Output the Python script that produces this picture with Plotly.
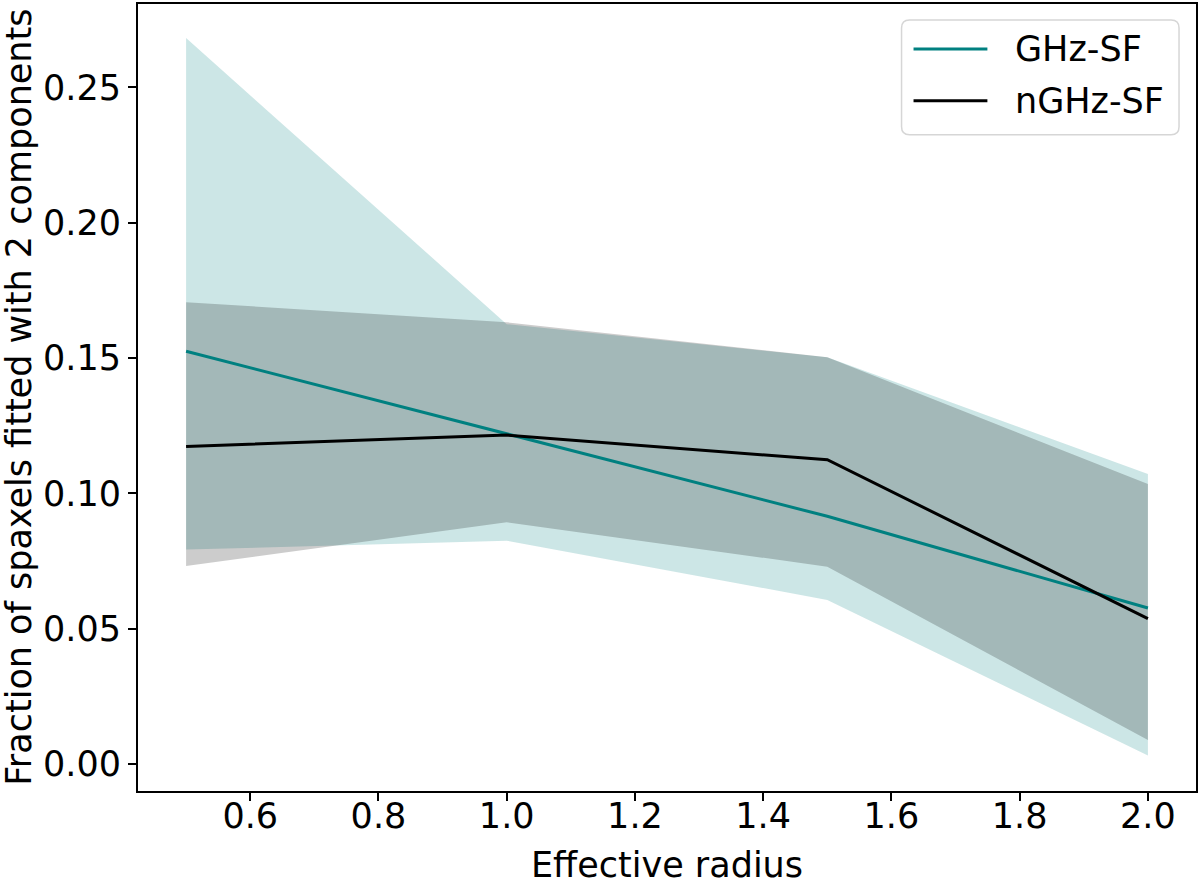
import plotly.graph_objects as go

# Data
radius = [0.5, 1.0, 1.5, 2.0]
ghz_mean = [0.1525, 0.1220, 0.0915, 0.0576]
ghz_upper = [0.2682, 0.1625, 0.1503, 0.1071]
ghz_lower = [0.0792, 0.0825, 0.0606, 0.0031]
nghz_mean = [0.1173, 0.1215, 0.1124, 0.0537]
nghz_upper = [0.1706, 0.1632, 0.1503, 0.1034]
nghz_lower = [0.0731, 0.0893, 0.0729, 0.0088]

series_names = ["GHz-SF", "nGHz-SF"]
x_ticks = [0.6, 0.8, 1.0, 1.2, 1.4, 1.6, 1.8, 2.0]
y_ticks = [0.00, 0.05, 0.10, 0.15, 0.20, 0.25]

TEAL = "#008080"
FONT = "DejaVu Sans"
FS = 35

fig = go.Figure()

# bands
fig.add_trace(go.Scatter(
    x=radius + radius[::-1], y=ghz_upper + ghz_lower[::-1],
    fill="toself", fillcolor="rgba(0,128,128,0.2)", line=dict(width=0),
    mode="lines", showlegend=False, hoverinfo="skip"))
fig.add_trace(go.Scatter(
    x=radius + radius[::-1], y=nghz_upper + nghz_lower[::-1],
    fill="toself", fillcolor="rgba(0,0,0,0.2)", line=dict(width=0),
    mode="lines", showlegend=False, hoverinfo="skip"))

# lines
fig.add_trace(go.Scatter(x=radius, y=ghz_mean, mode="lines", name=series_names[0],
                         line=dict(color=TEAL, width=3), showlegend=False))
fig.add_trace(go.Scatter(x=radius, y=nghz_mean, mode="lines", name=series_names[1],
                         line=dict(color="black", width=3), showlegend=False))

W, H = 1200, 878
ML, MR, MT, MB = 138, 2, 2, 87
pw, ph = W - ML - MR, H - MT - MB


def px(xp):
    return (xp - ML) / pw


def py(yp):
    return (MT + ph - yp) / ph


axis_common = dict(
    showline=True, linecolor="black", linewidth=2, mirror=True,
    ticks="outside", ticklen=8, tickwidth=2, tickcolor="black",
    showgrid=False, zeroline=False,
    tickfont=dict(family=FONT, size=FS, color="black"),
)

fig.update_xaxes(range=[0.425, 2.075], tickvals=x_ticks,
                 ticktext=[f"{v:.1f}" for v in x_ticks],
                 ticklabelstandoff=-15, **axis_common)
fig.update_yaxes(range=[-0.0100, 0.2808], tickvals=y_ticks,
                 ticktext=[f"{v:.2f}" for v in y_ticks], **axis_common)

fig.add_annotation(text="Effective radius", xref="paper", yref="paper",
                   x=0.5, y=py(865), xanchor="center", yanchor="middle",
                   showarrow=False, font=dict(family=FONT, size=FS, color="black"))
fig.add_annotation(text="Fraction of spaxels fitted with 2 components",
                   xref="paper", yref="paper", textangle=-90,
                   x=px(18), y=0.5, xanchor="center", yanchor="middle",
                   showarrow=False, font=dict(family=FONT, size=FS, color="black"))

# legend drawn in matplotlib style (rounded frame, long line samples)
lx0, lx1, ly0, ly1, r = 903, 1181, 18, 133, 8
rx, ry = r / pw, r / ph
X0, X1, Y0, Y1 = px(lx0), px(lx1), py(ly1), py(ly0)
path = (f"M {X0+rx},{Y0} L {X1-rx},{Y0} Q {X1},{Y0} {X1},{Y0+ry} "
        f"L {X1},{Y1-ry} Q {X1},{Y1} {X1-rx},{Y1} L {X0+rx},{Y1} "
        f"Q {X0},{Y1} {X0},{Y1-ry} L {X0},{Y0+ry} Q {X0},{Y0} {X0+rx},{Y0} Z")
fig.add_shape(type="path", path=path, xref="paper", yref="paper",
              fillcolor="rgba(255,255,255,0.8)", line=dict(color="#d6d6d6", width=1.5))
for name, color, yl in zip(series_names, [TEAL, "black"], [47, 99]):
    fig.add_shape(type="line", xref="paper", yref="paper",
                  x0=px(915), x1=px(989), y0=py(yl), y1=py(yl),
                  line=dict(color=color, width=3))
    fig.add_annotation(text=name, xref="paper", yref="paper", x=px(1015), y=py(yl),
                       xanchor="left", yanchor="middle", showarrow=False,
                       font=dict(family=FONT, size=FS, color="black"))

fig.update_layout(
    width=W, height=H,
    margin=dict(l=ML, r=MR, t=MT, b=MB, pad=0),
    paper_bgcolor="white", plot_bgcolor="white",
    font=dict(family=FONT, size=FS, color="black"),
    showlegend=False,
)

fig.write_html("out.html", config={"displayModeBar": False},
               post_script="document.body.style.margin='0px';")
